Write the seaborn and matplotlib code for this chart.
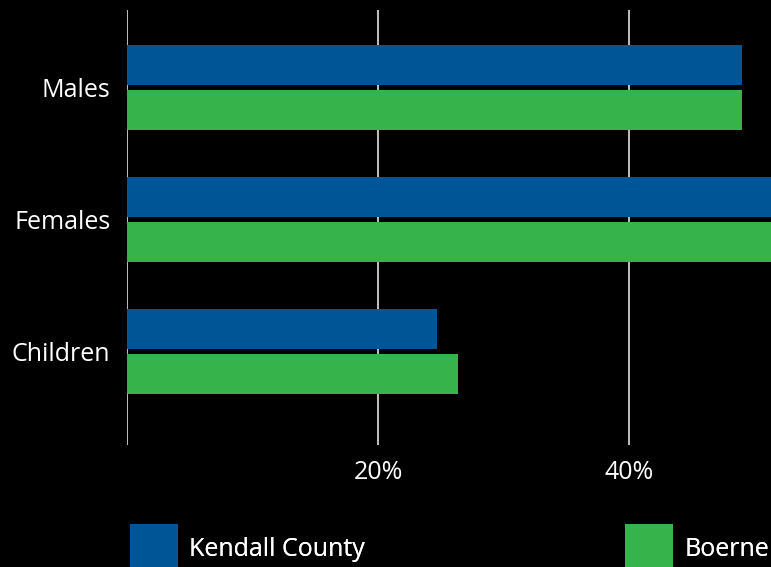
import pandas as pd
import seaborn as sns
import matplotlib.pyplot as plt
from matplotlib.patches import Patch

groups = ['Males', 'Females', 'Children']
kendall = [49.0, 52.0, 24.7]
boerne = [49.0, 52.5, 26.4]
series = ['Kendall County', 'Boerne']
colors = ['#005596', '#36B34A']

df = pd.DataFrame({
    'group': groups * 2,
    'value': kendall + boerne,
    'series': [series[0]] * 3 + [series[1]] * 3,
})

sns.set_style('dark')
plt.rcParams['font.family'] = ['Open Sans', 'DejaVu Sans']
fs = 18

fig = plt.figure(figsize=(7.71, 5.67), dpi=100, facecolor='black')
ax = fig.add_axes([127 / 771, 1 - 445 / 567, 1 - 127 / 771, 435 / 567])
ax.set_facecolor('black')

sns.barplot(data=df, x='value', y='group', hue='series', orient='h',
            palette=colors, width=0.682, gap=0.111, saturation=1,
            linewidth=0, edgecolor='none', legend=False, ax=ax)

ax.set_xlim(0, 51.31)
ax.set_ylim(2.708, -0.587)
ax.set_xticks([0, 20, 40])
ax.set_xticklabels(['', '20%', '40%'])
ax.set_axisbelow(True)
ax.grid(axis='x', color='#d0d0d0', linewidth=1.3)
ax.grid(axis='y', visible=False)
for s in ax.spines.values():
    s.set_visible(False)
ax.tick_params(length=0, colors='white', labelsize=fs)
ax.tick_params(axis='y', pad=12)
ax.tick_params(axis='x', pad=11)
ax.set_xlabel('')
ax.set_ylabel('')

for i, (name, c) in enumerate(zip(series, colors)):
    x0 = [130, 625][i]
    leg = fig.legend(handles=[Patch(facecolor=c, edgecolor='none', linewidth=0, label=name)],
                     loc='upper left', bbox_to_anchor=(x0 / 771, 1 - 524 / 567),
                     frameon=False, fontsize=fs, borderpad=0, borderaxespad=0,
                     handlelength=1.92, handleheight=2.58, handletextpad=0.45,
                     labelcolor='white')
    fig.add_artist(leg)

fig.savefig('out.png', dpi=100, facecolor='black')
